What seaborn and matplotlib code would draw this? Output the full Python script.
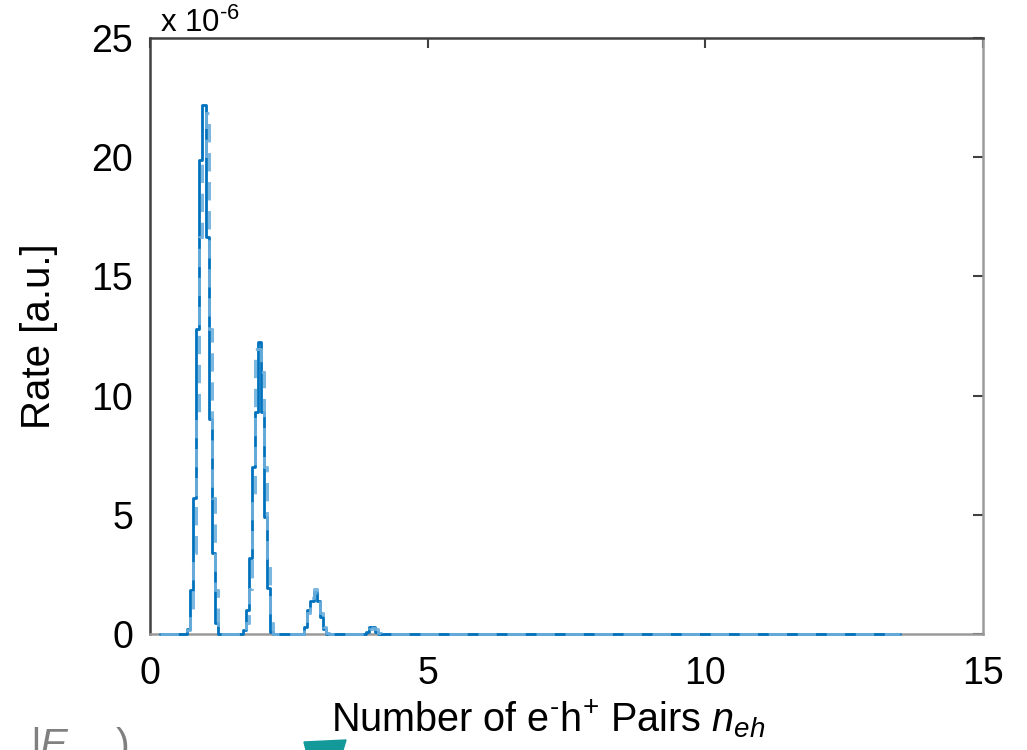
import numpy as np
import matplotlib
matplotlib.use("Agg")
import matplotlib.pyplot as plt
from matplotlib.patches import Polygon
import seaborn as sns

# ---------------- data (rates in units of 1e-6) ----------------
bin_width = 1 / 18
x_begin = 0.18
x_end = 13.5

# dark (solid) curve: start of first bin of each peak, and bin values
dark_starts = [12 / 18, 30 / 18, 50 / 18, 70 / 18]
dark_peak1 = [0.2, 1.85, 5.7, 12.8, 19.9, 22.2, 16.65, 9.0, 3.4, 0.46]
dark_peak2 = [0.17, 1.0, 3.2, 7.0, 9.3, 12.25, 9.3, 4.9, 1.93, 0.1]
dark_peak3 = [0.3, 1.0, 1.4, 1.78, 1.4, 0.7, 0.2]
dark_peak4 = [0.1, 0.3, 0.3, 0.1]

# light (dashed) curve
light_starts = [12 / 18, 31 / 18, 50 / 18, 70 / 18]
light_peak1 = [0.17, 0.9, 3.4, 9.0, 16.65, 19.9, 21.85, 12.8, 5.7, 1.85, 0.17]
light_peak2 = [0.46, 1.9, 5.5, 11.95, 11.95, 11.0, 7.0, 3.2, 0.46]
light_peak3 = [0.2, 0.9, 1.5, 1.9, 1.7, 0.9, 0.3, 0.05]
light_peak4 = [0.05, 0.2, 0.25, 0.2, 0.05]

x_ticks = [0, 5, 10, 15]
y_ticks = [0, 5, 10, 15, 20, 25]


def build_steps(starts, peaks):
    edges = [x_begin]
    vals = []
    for s, pv in zip(starts, peaks):
        vals.append(0.0)
        edges.append(s)
        for v in pv:
            vals.append(v)
            edges.append(edges[-1] + bin_width)
    vals.append(0.0)
    edges.append(x_end)
    return np.array(edges), np.array(vals + [0.0])


dx, dy = build_steps(dark_starts, [dark_peak1, dark_peak2, dark_peak3, dark_peak4])
lx, ly = build_steps(light_starts, [light_peak1, light_peak2, light_peak3, light_peak4])

# ---------------- style ----------------
sns.set_theme(style="white")
plt.rcParams["font.family"] = ["Liberation Sans", "DejaVu Sans"]
plt.rcParams["mathtext.fontset"] = "custom"
plt.rcParams["mathtext.rm"] = "Liberation Sans"
plt.rcParams["mathtext.it"] = "Liberation Sans:italic"
plt.rcParams["mathtext.default"] = "regular"

W, H = 1027, 750
fig = plt.figure(figsize=(W / 100, H / 100), dpi=100)
fig.patch.set_facecolor("white")
ax = fig.add_axes([150 / W, 1 - 634 / H, (983 - 150) / W, (634 - 38) / H])
ax.set_facecolor("white")

sns.lineplot(x=dx, y=dy, ax=ax, color="#0072bd", linewidth=2.0,
             drawstyle="steps-post", estimator=None, sort=False)
dark_line = ax.lines[-1]
sns.lineplot(x=lx, y=ly, ax=ax, color="#6eafdc", linewidth=2.2,
             drawstyle="steps-post", estimator=None, sort=False)
light_line = ax.lines[-1]
light_line.set_dashes([6, 3.5])
light_line.set_alpha(0.9)
for ln in (dark_line, light_line):
    ln.set_clip_on(False)
    ln.set_zorder(3)
light_line.set_zorder(3.1)

ax.set_xlim(0, 15)
ax.set_ylim(0, 25)
ax.set_xticks(x_ticks)
ax.set_yticks(y_ticks)
ax.set_xticklabels([str(t) for t in x_ticks])
ax.set_yticklabels([str(t) for t in y_ticks])

for side in ["left", "top"]:
    ax.spines[side].set_color("#404040")
    ax.spines[side].set_linewidth(1.8)
for side in ["bottom", "right"]:
    ax.spines[side].set_color("#9a9a9a")
    ax.spines[side].set_linewidth(1.8)

ax.tick_params(axis="both", direction="in", length=7, width=1.5,
               top=True, right=True, labelsize=27, colors="#404040",
               labelcolor="black")
ax.tick_params(axis="x", pad=16)
ax.tick_params(axis="y", pad=12)

ax.set_ylabel("Rate [a.u.]", fontsize=29, color="black")
ax.yaxis.set_label_coords((58 - 150) / 833, 0.5)
ax.set_xlabel("Number of e$^{\u2010}$h$^{+}$ Pairs $\\it{n}_{\\it{eh}}$",
              fontsize=28.5, color="black")
ax.xaxis.set_label_coords((548 - 150) / 833, -(697 - 634) / 596)

fig.text(160 / W, 1 - 32 / H, "x 10$^{\u2010 6}$", fontsize=22.5, color="black",
         va="baseline", ha="left")

# cropped slide remnants at the bottom edge
fig.text(30 / W, 1 - 758 / H, "|", fontsize=30, color="#808080",
         va="baseline", ha="left")
fig.text(40 / W, 1 - 758 / H, "E", fontsize=30, color="#808080",
         va="baseline", ha="left", style="italic")
fig.text(116 / W, 1 - 758 / H, ")", fontsize=30, color="#808080",
         va="baseline", ha="left")
poly = Polygon([(304 / W, 1 - 742 / H), (346 / W, 1 - 740 / H),
                (343 / W, 0.0), (306 / W, 0.0)],
               closed=True, transform=fig.transFigure, color="#13999a")
fig.patches.append(poly)

fig.savefig("out.png", dpi=100, facecolor="white")
